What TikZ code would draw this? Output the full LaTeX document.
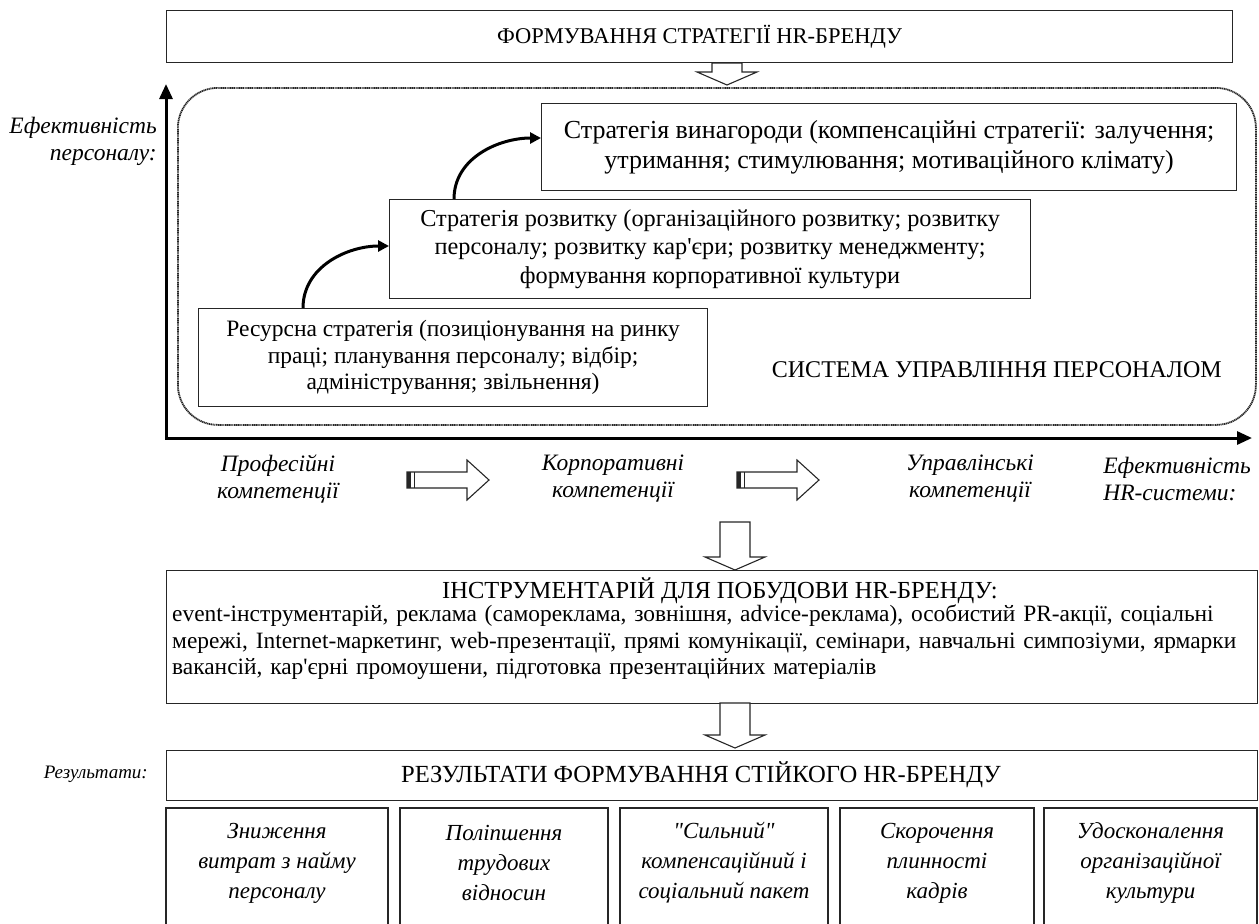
\documentclass[tikz,border=0pt]{standalone}
\usepackage{fontspec}
\setmainfont{Liberation Serif}[Ligatures=TeXOff]
\usetikzlibrary{arrows.meta,calc}
\newcommand{\fsBa}{\fontsize{23.5}{26.5}\selectfont}
\newcommand{\fsBb}{\fontsize{24.3}{28.5}\selectfont}
\newcommand{\fsBc}{\fontsize{26}{30}\selectfont}
\newcommand{\fsTop}{\fontsize{22.5}{26}\selectfont}
\newcommand{\fsCap}{\fontsize{24.6}{28}\selectfont}
\newcommand{\fsSys}{\fontsize{24}{28}\selectfont}
\newcommand{\fsInstT}{\fontsize{24.5}{28}\selectfont}
\newcommand{\fsInst}{\fontsize{23.4}{26.5}\selectfont}
\newcommand{\fsLab}{\fontsize{23.5}{27}\selectfont\itshape}
\newcommand{\fsResLab}{\fontsize{19}{22}\selectfont\itshape}
\newcommand{\fsRes}{\fontsize{23}{30}\selectfont\itshape}
\begin{document}
\begin{tikzpicture}[x=1pt,y=-1pt,
  box/.style={draw=black!85, line width=1.2pt, fill=white, inner sep=0pt, align=center, anchor=north west},
  sysframe/.style={draw=black!85, line width=1.8pt, dash pattern=on 1.2pt off 0.6pt, rounded corners=40pt, inner sep=0pt, anchor=north west},
  axis/.style={line width=3pt, draw=black, {Triangle[length=15pt,width=13pt]}-{Triangle[length=15pt,width=13pt]}},
  curv/.style={line width=3pt, -{Triangle[length=11pt,width=11pt]}},
  hollow/.style={draw=black!85, line width=1.1pt, fill=white, line join=miter},
  lab/.style={font=\fsLab, inner sep=0pt},
  downarrow/.pic={
    \path[hollow] (-15,0) -- (15,0) -- (15,#1) -- (30,#1) -- (0,#1+13) -- (-30,#1) -- (-15,#1) -- cycle;
  },
  rightarrow/.pic={
    \path[hollow] (0,-8) -- (60,-8) -- (60,-20) -- (82,0) -- (60,20) -- (60,8) -- (0,8) -- cycle;
    \fill[black!85] (0,-8) rectangle (4,8);
    \draw[black!85, line width=1pt] (7.5,-8) -- (7.5,8);
  }
]
\useasboundingbox (0,0) rectangle (1259,924);

% top box
\node[box, minimum width=1066, minimum height=52] (top) at (166,10) {};
\node[font=\fsTop, inner sep=0pt] (toptxt) at (top.center) {ФОРМУВАННЯ СТРАТЕГІЇ HR-БРЕНДУ};
\pic at (727,63) {downarrow=9};

% system frame
\node[sysframe, minimum width=1078, minimum height=337] (sys) at (177,87) {};

% axes
\coordinate (O) at (166,438);
\coordinate (ytip) at (166,84);
\coordinate (xtip) at (1252,438);
\draw[axis] (ytip) -- (O) -- (xtip);

\node[lab, anchor=east, align=right] (ylab) at (157,141) {Ефективність\\персоналу:};

% strategy boxes
\node[box, minimum width=695, minimum height=87, font=\fsBc] (b3) at (541,103)
  {Стратегія винагороди (компенсаційні стратегії: залучення;\\утримання; стимулювання; мотиваційного клімату)};
\node[box, minimum width=641, minimum height=99, font=\fsBb] (b2) at (389,199)
  {Стратегія розвитку (організаційного розвитку; розвитку\\персоналу; розвитку кар'єри; розвитку менеджменту;\\формування корпоративної культури};
\node[box, minimum width=509, minimum height=98, font=\fsBa] (b1) at (198,308)
  {Ресурсна стратегія (позиціонування на ринку\\праці; планування персоналу; відбір;\\адміністрування; звільнення)};

\draw[curv] ($(b1.north west)+(105,0)$) to[out=90,in=180] ($(b2.north west)+(0,47)$);
\draw[curv] ($(b2.north west)+(65,0)$) to[out=90,in=180] ($(b3.north west)+(0,35)$);

\node[font=\fsSys, inner sep=0pt, anchor=east] (systxt) at (1222,370) {СИСТЕМА УПРАВЛІННЯ ПЕРСОНАЛОМ};

% competencies
\node[lab, align=center] (c1) at (278,479) {Професійні\\компетенції};
\node[lab, align=center] (c2) at (613,479) {Корпоративні\\компетенції};
\node[lab, align=center] (c3) at (970,479) {Управлінські\\компетенції};
\node[lab, align=left] (c4) at (1177,479) {Ефективність\\HR-системи:};
\pic at (407,480) {rightarrow};
\pic at (737,480) {rightarrow};

\pic at (735,522) {downarrow=35};

% instruments
\node[box, minimum width=1091, minimum height=133] (inst) at (166,570) {};
\node[font=\fsInstT, inner sep=0pt] (insttitle) at (720,591) {ІНСТРУМЕНТАРІЙ ДЛЯ ПОБУДОВИ HR-БРЕНДУ:};
\node[font=\fsInst, inner sep=0pt, anchor=north west, text width=1079pt, align=left] (insttxt) at (172,605)
  {\makebox[1079pt][s]{event-інструментарій, реклама (самореклама, зовнішня, advice-реклама), особистий PR-акції, соціальні}\\
   \makebox[1079pt][s]{мережі, Internet-маркетинг, web-презентації, прямі комунікації, семінари, навчальні симпозіуми, ярмарки}\\
   вакансій, кар'єрні промоушени, підготовка презентаційних матеріалів};

\pic at (735,703) {downarrow=32};

% results
\node[box, minimum width=1091, minimum height=50] (res) at (166,750) {};
\node[font=\fsCap, inner sep=0pt] (restxt) at (701,775) {РЕЗУЛЬТАТИ ФОРМУВАННЯ СТІЙКОГО HR-БРЕНДУ};
\node[font=\fsResLab, inner sep=0pt, anchor=east] (reslab) at (148,774) {Результати:};

\foreach \xa/\xb [count=\i] in {166/388, 400/608, 620/828, 840/1034, 1044/1257}{
  \draw[draw=black!85, line width=1.2pt] (\xa,935) -- (\xa,808) -- (\xb,808) -- (\xb,935);
  \coordinate (r\i) at ({(\xa+\xb)/2},863);
}
\node[font=\fsRes, align=center, inner sep=0pt] (t1) at (r1) {Зниження\\витрат з найму\\персоналу};
\node[font=\fsRes, align=center, inner sep=0pt] (t2) at (r2) {Поліпшення\\трудових\\відносин};
\node[font=\fsRes, align=center, inner sep=0pt] (t3) at (r3) {"Сильний"\\компенсаційний і\\соціальний пакет};
\node[font=\fsRes, align=center, inner sep=0pt] (t4) at (r4) {Скорочення\\плинності\\кадрів};
\node[font=\fsRes, align=center, inner sep=0pt] (t5) at (r5) {Удосконалення\\організаційної\\культури};
\end{tikzpicture}
\end{document}
